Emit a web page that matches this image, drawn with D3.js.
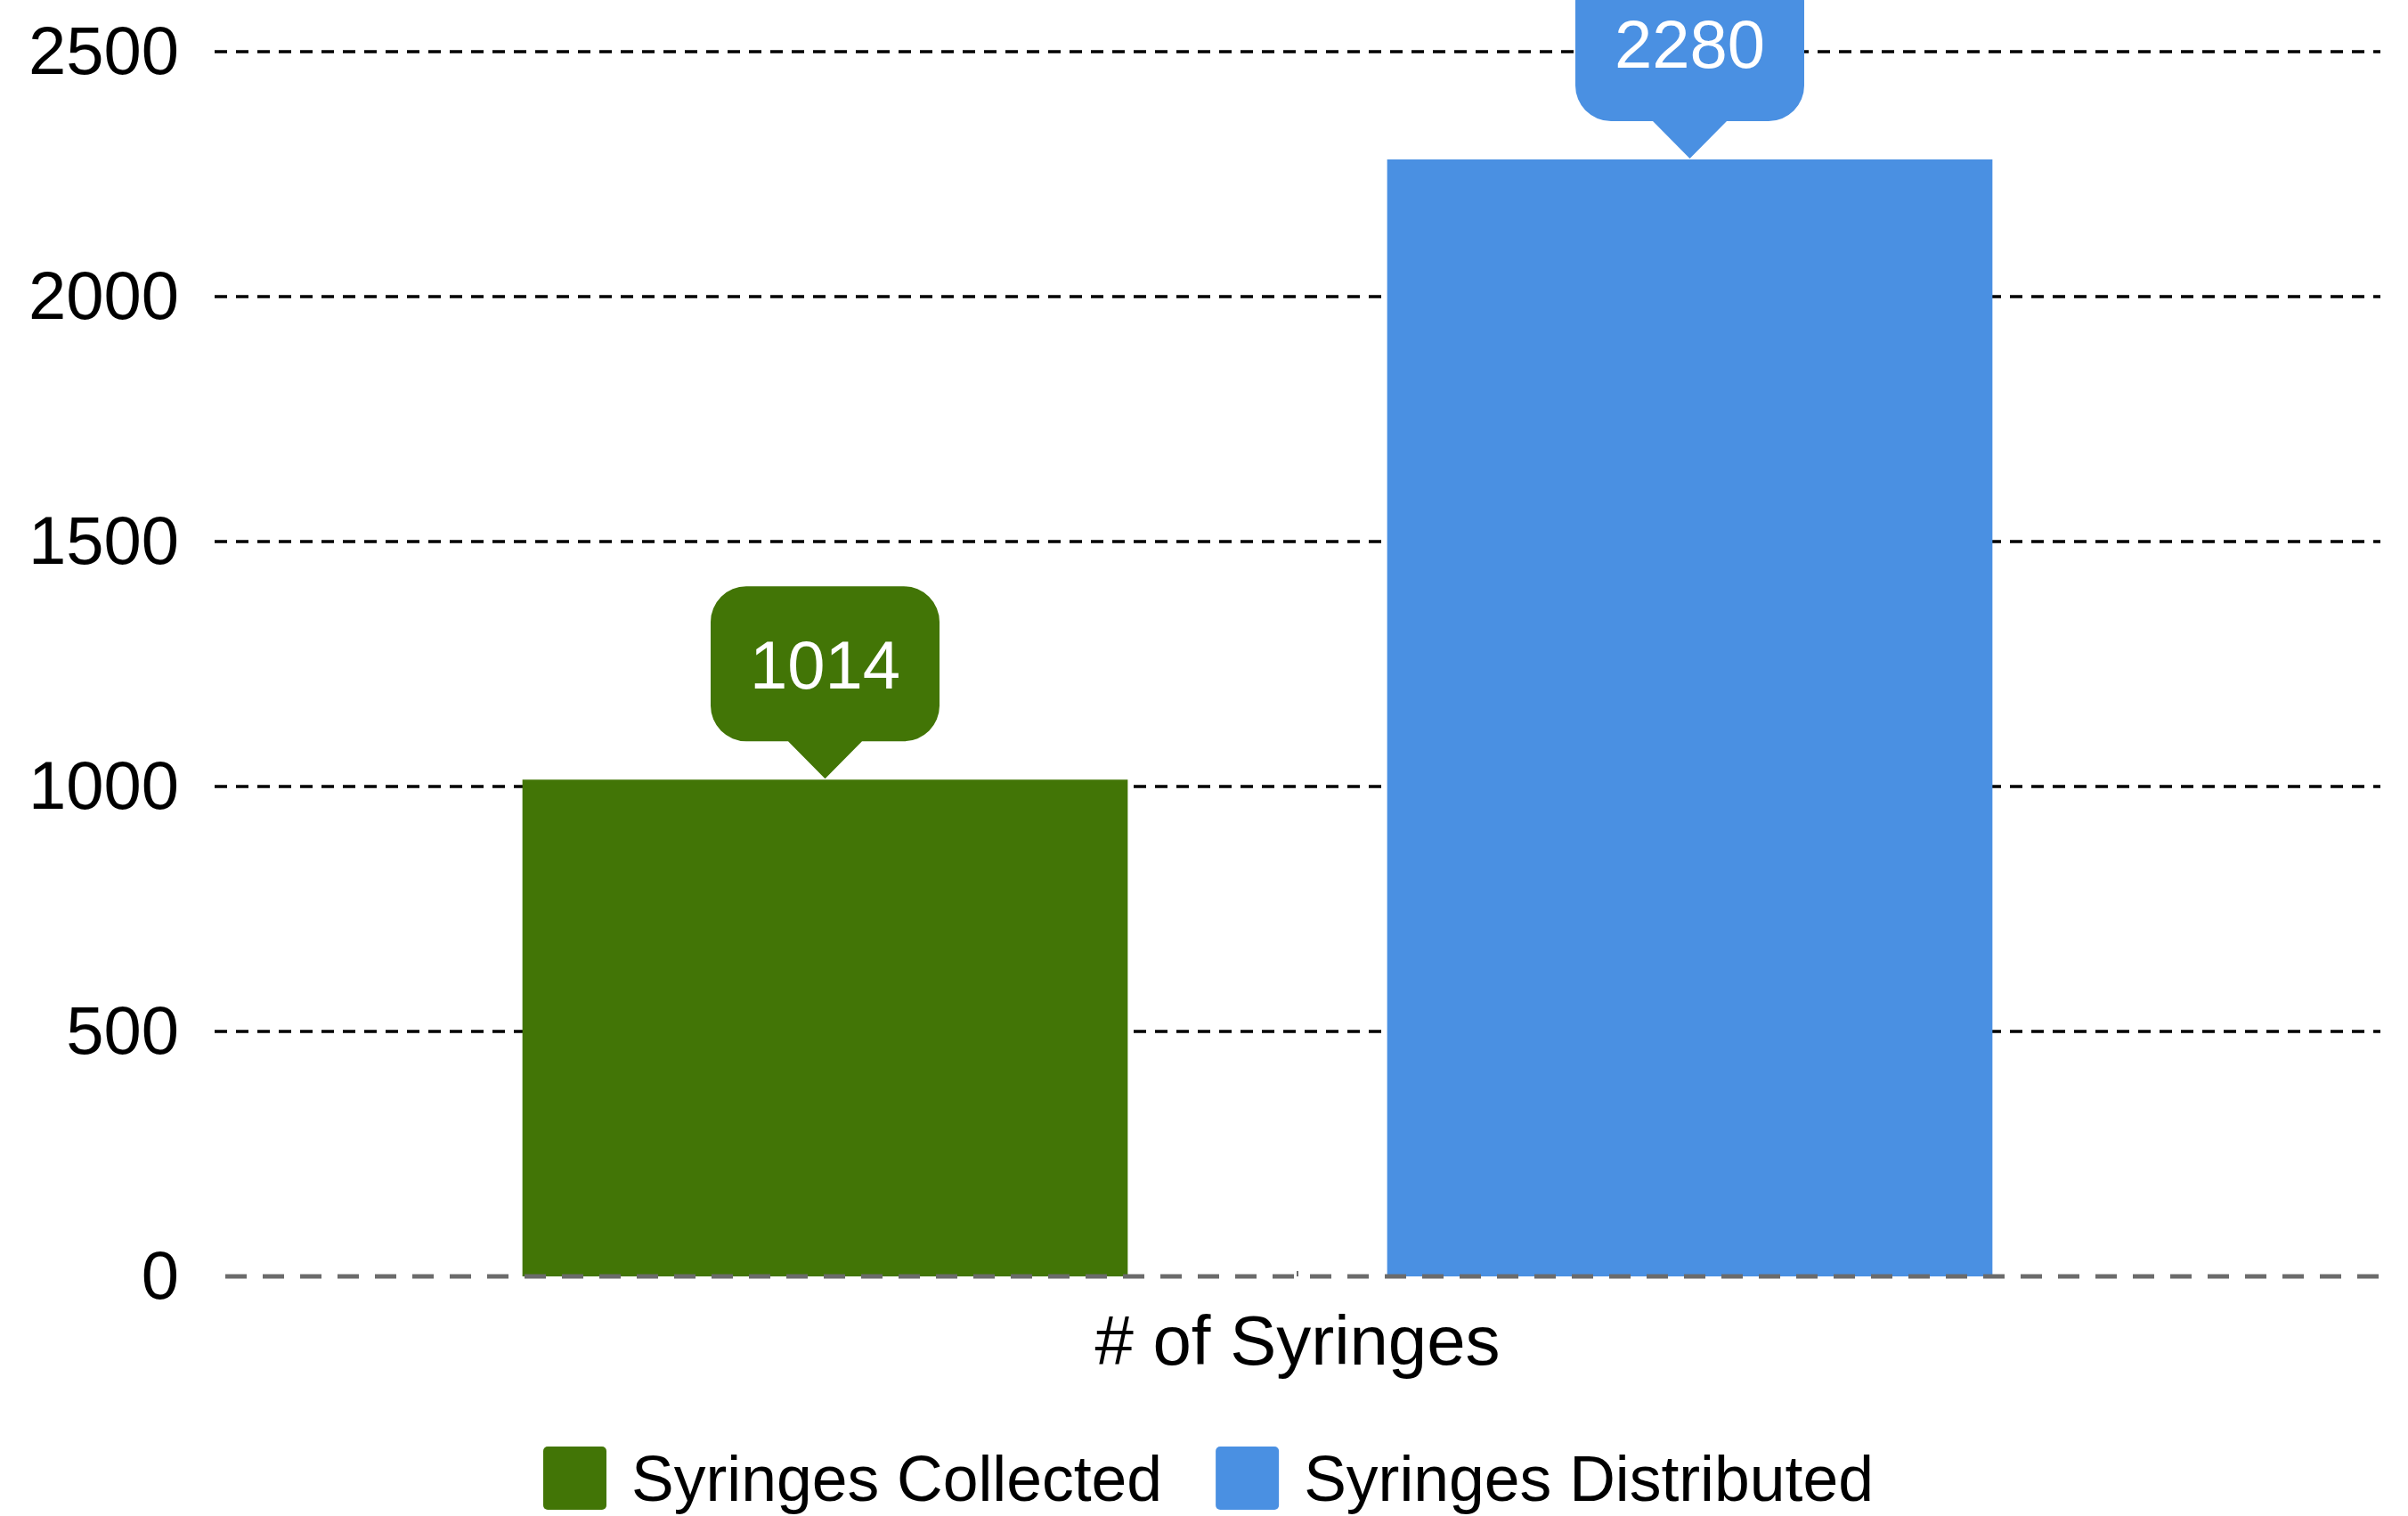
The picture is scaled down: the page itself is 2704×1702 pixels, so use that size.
<!DOCTYPE html>
<html>
<head>
<meta charset="utf-8">
<script src="https://cdn.jsdelivr.net/npm/d3@7"></script>
<style>
  body { margin: 0; background: #fff; }
  text { font-family: "Liberation Sans", Arial, sans-serif; }
</style>
</head>
<body>
<div id="chart"></div>
<script>
// data
var categories = ["Syringes Collected", "Syringes Distributed"];
var values = [1014, 2280];
var colors = ["#427506", "#4a90e2"];
var yTicks = [0, 500, 1000, 1500, 2000, 2500];
var axisTitle = "# of Syringes";

var width = 2704, height = 1702;

var svg = d3.select("#chart").append("svg")
    .attr("width", width)
    .attr("height", height);

// scales
var x = d3.scaleBand()
    .domain(categories)
    .range([441, 2383])
    .paddingInner(0.3)
    .paddingOuter(0.15);

var y = d3.scaleLinear()
    .domain([0, 2500])
    .range([1433, 58]);

var gridLeft = 241, gridRight = 2673;

// gridlines (not the zero one)
svg.append("g")
  .selectAll("line")
  .data(yTicks.filter(function(d) { return d !== 0; }))
  .enter().append("line")
    .attr("x1", gridLeft)
    .attr("x2", gridRight)
    .attr("y1", function(d) { return y(d); })
    .attr("y2", function(d) { return y(d); })
    .style("stroke", "#000")
    .style("stroke-width", 3.5)
    .style("stroke-dasharray", "14,10");

// y tick labels
var yAxis = svg.append("g")
    .attr("transform", "translate(" + gridLeft + ",0)")
    .call(d3.axisLeft(y)
      .tickValues(yTicks)
      .tickSize(0)
      .tickPadding(40)
      .tickFormat(d3.format("d")));
yAxis.select(".domain").remove();
yAxis.selectAll("text")
    .style("font-family", "'Liberation Sans', Arial, sans-serif")
    .style("font-size", "76px")
    .style("fill", "#000");

// bars
svg.append("g")
  .selectAll("rect")
  .data(values)
  .enter().append("rect")
    .attr("x", function(d, i) { return x(categories[i]); })
    .attr("width", x.bandwidth())
    .attr("y", function(d) { return y(d); })
    .attr("height", function(d) { return y(0) - y(d); })
    .style("fill", function(d, i) { return colors[i]; });

// zero line
svg.append("line")
    .attr("x1", 253)
    .attr("x2", 2673)
    .attr("y1", y(0))
    .attr("y2", y(0))
    .style("stroke", "#6b6b6b")
    .style("stroke-width", 5)
    .style("stroke-dasharray", "24,18");

// little category tick at the centre
svg.append("line")
    .attr("x1", (gridLeft + gridRight) / 2)
    .attr("x2", (gridLeft + gridRight) / 2)
    .attr("y1", y(0) - 6)
    .attr("y2", y(0))
    .style("stroke", "#6b6b6b")
    .style("stroke-width", 2);

// value callouts
var boxW = 257, boxH = 174, rad = 40, tipW = 83, tipH = 42;

function bubble(cx, tipY) {
  var b = tipY - tipH, t = b - boxH, l = cx - boxW / 2, r = cx + boxW / 2;
  return "M" + (l + rad) + "," + t +
    "H" + (r - rad) +
    "A" + rad + "," + rad + " 0 0 1 " + r + "," + (t + rad) +
    "V" + (b - rad) +
    "A" + rad + "," + rad + " 0 0 1 " + (r - rad) + "," + b +
    "H" + (cx + tipW / 2) +
    "L" + cx + "," + tipY +
    "L" + (cx - tipW / 2) + "," + b +
    "H" + (l + rad) +
    "A" + rad + "," + rad + " 0 0 1 " + l + "," + (b - rad) +
    "V" + (t + rad) +
    "A" + rad + "," + rad + " 0 0 1 " + (l + rad) + "," + t + "Z";
}

var callouts = svg.append("g")
  .selectAll("g")
  .data(values)
  .enter().append("g");

callouts.append("path")
    .attr("d", function(d, i) {
      return bubble(x(categories[i]) + x.bandwidth() / 2, y(d) - 1);
    })
    .style("fill", function(d, i) { return colors[i]; });

callouts.append("text")
    .attr("x", function(d, i) { return x(categories[i]) + x.bandwidth() / 2; })
    .attr("y", function(d) { return y(d) - 1 - tipH - boxH / 2; })
    .attr("dy", "0.36em")
    .attr("text-anchor", "middle")
    .style("font-size", "76px")
    .style("fill", "#fff")
    .text(function(d) { return d; });

// axis title
svg.append("text")
    .attr("x", (gridLeft + gridRight) / 2)
    .attr("y", 1532)
    .attr("text-anchor", "middle")
    .style("font-size", "78px")
    .style("fill", "#000")
    .text(axisTitle);

// legend
var legend = svg.append("g");
var lx = 610, sq = 71, legY = 1624;
categories.forEach(function(c, i) {
  legend.append("rect")
      .attr("x", lx)
      .attr("y", legY)
      .attr("width", sq)
      .attr("height", sq)
      .attr("rx", 5)
      .style("fill", colors[i]);
  var t = legend.append("text")
      .attr("x", lx + sq + 28)
      .attr("y", legY + sq / 2)
      .attr("dy", "0.36em")
      .style("font-size", "71.5px")
      .style("fill", "#000")
      .text(c);
  lx = lx + sq + 28 + t.node().getComputedTextLength() + 60;
});
</script>
</body>
</html>
